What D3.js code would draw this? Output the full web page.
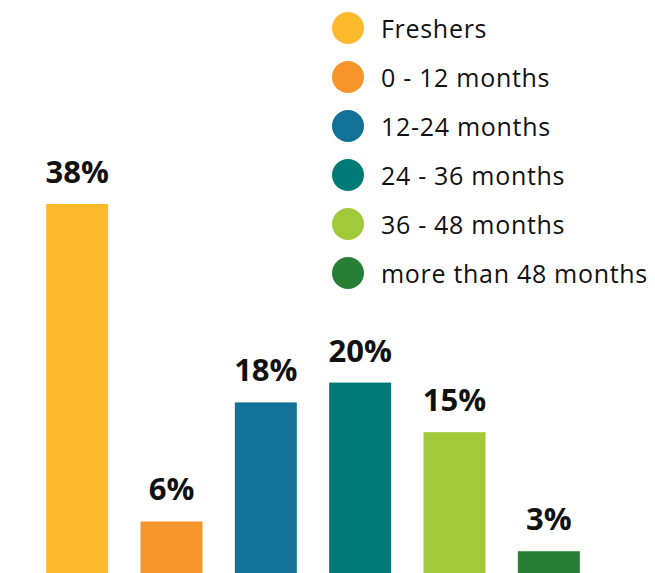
<!DOCTYPE html>
<html>
<head>
<meta charset="utf-8">
<script src="https://cdn.jsdelivr.net/npm/d3@7"></script>
<style>
  body { margin: 0; background: #fff; }
  text { font-family: "Open Sans", sans-serif; }
</style>
</head>
<body>
<div id="chart-area"></div>
<script>
var categories = ["Freshers", "0 - 12 months", "12-24 months", "24 - 36 months", "36 - 48 months", "more than 48 months"];
var values = [38, 6, 18, 20, 15, 3];
var colors = ["#fdb92c", "#f7952a", "#137197", "#007a77", "#a2c93a", "#267f34"];

var width = 655;
var height = 573;

var svg = d3.select("#chart-area").append("svg")
            .attr("width", width)
            .attr("height", height);

var x = d3.scaleBand()
          .domain(categories)
          .range([30, 596])
          .paddingInner(0.343)
          .paddingOuter(0.1715);

// baseline sits a little below the visible bottom edge
var y = d3.scaleLinear()
          .domain([0, 38])
          .range([581, 204]);

svg.selectAll("rect.bar")
   .data(values)
   .enter()
   .append("rect")
     .attr("class", "bar")
     .attr("x", (d, i) => x(categories[i]))
     .attr("y", (d) => y(d))
     .attr("width", x.bandwidth())
     .attr("height", (d) => y(0) - y(d))
     .attr("fill", (d, i) => colors[i]);

svg.selectAll("text.value")
   .data(values)
   .enter()
   .append("text")
     .attr("class", "value")
     .attr("x", (d, i) => x(categories[i]) + x.bandwidth() / 2)
     .attr("y", (d) => y(d) - 21)
     .attr("text-anchor", "middle")
     .attr("font-size", "31px")
     .attr("font-weight", "bold")
     .style("fill", "#111")
     .text((d) => d + "%");

var legend = svg.append("g")
                .attr("class", "legend")
                .attr("transform", "translate(348, 28)");

var rows = legend.selectAll("g")
                 .data(categories)
                 .enter()
                 .append("g")
                 .attr("transform", (d, i) => "translate(0, " + (i * 49) + ")");

rows.append("circle")
    .attr("r", 16)
    .attr("fill", (d, i) => colors[i]);

rows.append("text")
    .attr("x", 33)
    .attr("y", 10)
    .attr("font-size", "25px")
    .attr("letter-spacing", "0.7px")
    .style("fill", "#111")
    .text((d) => d);
</script>
</body>
</html>
